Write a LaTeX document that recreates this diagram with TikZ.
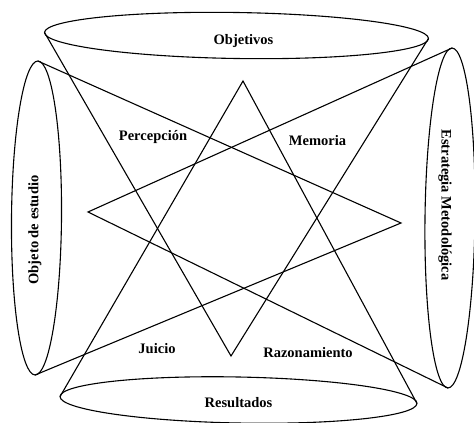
\documentclass[tikz,border=0pt]{standalone}
\usepackage{fontspec}
\setmainfont{Liberation Serif}
\usetikzlibrary{shapes.geometric}

\begin{document}
\begin{tikzpicture}[x=1pt, y=-1pt, line width=1.1pt,
    lens/.style={draw, ellipse, inner sep=0pt, outer sep=0pt},
    tag/.style={font=\fontsize{14.5}{17}\selectfont\bfseries, inner sep=0pt}]
    \useasboundingbox (0,0) rectangle (474,423);

    % Four ellipses (the bases of the cones)
    \node[lens, minimum width=384pt, minimum height=46pt, rotate=-0.9] (obj) at (236.5,35.5) {};
    \node[lens, minimum width=357pt, minimum height=46pt, rotate=-1.1] (res) at (238.5,400) {};
    \node[lens, minimum width=314pt, minimum height=50pt, rotate=89.5] (ode) at (36.5,218) {};
    \node[lens, minimum width=340pt, minimum height=50pt, rotate=-90.7] (est) at (450,218) {};

    % Apexes of the star
    \coordinate (up) at (243,81);
    \coordinate (down) at (231,356);
    \coordinate (lft) at (88,212);
    \coordinate (rgt) at (401,223);

    % Cones
    \draw (obj.west) -- (down) -- (obj.east);
    \draw (res.west) -- (up) -- (res.east);
    \draw (ode.east) -- (rgt) -- (ode.west);
    \draw (est.west) -- (lft) -- (est.east);

    % Labels
    \node[tag] (objl) at (243.5,41) {Objetivos};
    \node[tag] (resl) at (238.5,403) {Resultados};
    \node[tag, rotate=90] (odel) at (35,230) {Objeto de estudio};
    \node[tag, rotate=-90] (estl) at (445,205) {Estrategia Metodológica};
    \node[tag] (per) at (153,137) {Percepción};
    \node[tag] (mem) at (317.5,141) {Memoria};
    \node[tag] (jui) at (157,349) {Juicio};
    \node[tag] (raz) at (308,353) {Razonamiento};
\end{tikzpicture}
\end{document}
